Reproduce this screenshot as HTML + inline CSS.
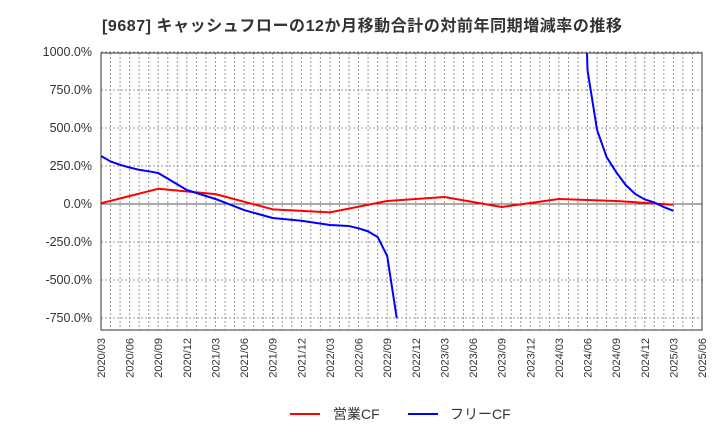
<!DOCTYPE html>
<html><head><meta charset="utf-8">
<style>
body{margin:0;background:#fff;}
svg{display:block;font-family:"Liberation Sans","Noto Sans CJK JP",sans-serif;}
</style></head>
<body>
<svg id="chart" width="720" height="440">
  <text x="102" y="31" font-size="16" font-weight="bold" fill="#333" textLength="520">[9687]  キャッシュフローの12か月移動合計の対前年同期増減率の推移</text>
  <defs><clipPath id="pc"><rect x="101" y="53" width="601" height="277"/></clipPath></defs>
  <g id="grid"></g>
  <g id="axes"></g>
  <g id="series" clip-path="url(#pc)"></g>
  <rect x="101" y="53" width="601" height="277" fill="none" stroke="#333" stroke-width="1"/>
  <g>
    <line x1="290" y1="414" x2="320" y2="414" stroke="#f00" stroke-width="2"/>
    <text x="333" y="419" font-size="14" fill="#333">営業CF</text>
    <line x1="408" y1="414" x2="438" y2="414" stroke="#00f" stroke-width="2"/>
    <text x="450" y="419" font-size="14" fill="#333">フリーCF</text>
  </g>
</svg>
<script>
const yTicks=[1000,750,500,250,0,-250,-500,-750];
const xLabels=["2020/03","2020/06","2020/09","2020/12","2021/03","2021/06","2021/09","2021/12","2022/03","2022/06","2022/09","2022/12","2023/03","2023/06","2023/09","2023/12","2024/03","2024/06","2024/09","2024/12","2025/03","2025/06"];
// month index from 2020/03
const opMonths=[0,6,12,15,18,24,30,36,42,48,54,60];
const opValues=[5,100,65,15,-35,-55,20,46,-20,33,20,-5];
const freeMonths1=[0,1,2,3,4,5,6,9,12,15,17,18,21,24,26,27,28,29,30,31];
const freeValues1=[316,280,258,240,225,215,204,92,33,-40,-75,-92,-110,-138,-145,-160,-180,-217,-342,-750];
const freeMonths2=[50,51,52,53,54,55,56,57,58,59,60];
const freeValues2=[3000,880,487,309,210,125,66,30,10,-20,-45];

const X0=101,X1=702,Y0=53,NM=63;
const xs=m=>X0+m*(X1-X0)/NM;
const ys=v=>204-v*38/250;
const NS="http://www.w3.org/2000/svg";
function mk(tag,attrs,parent){const e=document.createElementNS(NS,tag);for(const k in attrs)e.setAttribute(k,attrs[k]);parent.appendChild(e);return e;}
const grid=document.getElementById('grid'),axes=document.getElementById('axes'),ser=document.getElementById('series');
for(let m=1;m<NM;m++){
  const l=mk('line',{x1:xs(m),x2:xs(m),y1:Y0,y2:330,stroke:'#999','stroke-dasharray':'2,2','stroke-width':1},grid);
  
  
}
yTicks.forEach(v=>{
  const y=ys(v);
  const l=mk('line',{x1:X0,x2:X1,y1:y,y2:y,stroke:v===0?'#555':'#999','stroke-dasharray':v===0?'none':'2,2','stroke-width':1},grid);
  
  
  const t=mk('text',{x:92,y:y+4,'font-size':12.5,fill:'#333','text-anchor':'end'},axes);
  t.textContent=v.toFixed(1)+'%';
  
  
});
xLabels.forEach((s,i)=>{
  const x=xs(i*3);
  const t=mk('text',{x:x+4,y:338,'font-size':11,fill:'#333','text-anchor':'end',transform:`rotate(-90 ${x+4} 338)`},axes);
  t.textContent=s;
  
  
});
function line(ms,vs,color,name){
  const p=mk('polyline',{points:ms.map((m,i)=>xs(m)+','+ys(vs[i])).join(' '),fill:'none',stroke:color,'stroke-width':2,'stroke-linejoin':'round'},ser);
  
  
}
line(opMonths,opValues,'#f00','operating-cf-line');
line(freeMonths1,freeValues1,'#00f','free-cf-line-1');
line(freeMonths2,freeValues2,'#00f','free-cf-line-2');
</script>
</body></html>
